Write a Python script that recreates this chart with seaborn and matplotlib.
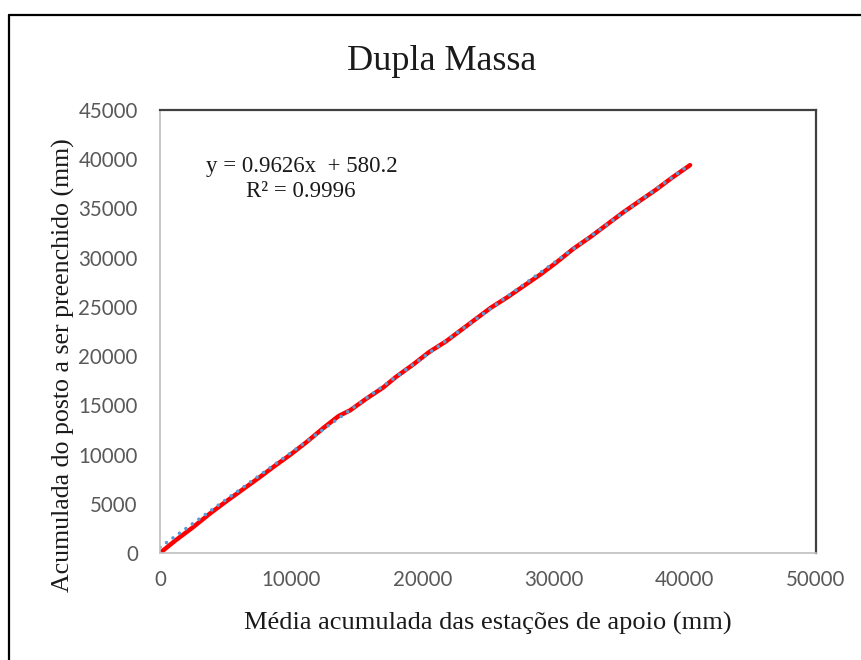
import matplotlib
matplotlib.use("Agg")
import matplotlib.pyplot as plt
import pandas as pd
import seaborn as sns
from matplotlib.lines import Line2D


# cumulative means of support stations (x) vs cumulative of the station being filled (y), mm
media_acumulada = [0, 1200, 2500, 3800, 5000, 6300, 7600, 8800, 9900, 11200,
                   12500, 13600, 14500, 15700, 17000, 18000, 19300, 20500, 21800, 23000,
                   24200, 25200, 26500, 27800, 29000, 30200, 31500, 32800, 34000, 35300,
                   36600, 37800, 39000, 40400]
posto_acumulado = [0, 1300, 2600, 4000, 5200, 6450, 7700, 8900, 9950, 11300,
                   12750, 13900, 14500, 15650, 16800, 17900, 19150, 20400, 21500, 22700,
                   23900, 24900, 26000, 27200, 28300, 29500, 30900, 32100, 33300, 34600,
                   35800, 36900, 38100, 39400]
slope = 0.9626
intercept = 580.2
r2 = 0.9996

x_ticks = [0, 10000, 20000, 30000, 40000, 50000]
y_ticks = [0, 5000, 10000, 15000, 20000, 25000, 30000, 35000, 40000, 45000]

df = pd.DataFrame({"x": media_acumulada, "y": posto_acumulado})
trend = pd.DataFrame({"x": [0, media_acumulada[-1]]})
trend["y"] = slope * trend["x"] + intercept

sns.set_theme(style="white")
serif = ["Liberation Serif", "DejaVu Serif"]
tick_font = ["Lato", "DejaVu Sans"]

fig = plt.figure(figsize=(8.61, 6.6), dpi=100)
ax = fig.add_axes([160 / 861, 1 - 553 / 660, (816 - 160) / 861, (553 - 110) / 660])

sns.lineplot(data=df, x="x", y="y", ax=ax, color="#FF0000", linewidth=3.2,
             sort=False, estimator=None, solid_capstyle="round")
# linear trendline, round dots
sns.lineplot(data=trend, x="x", y="y", ax=ax, color="#5B9BD5", linewidth=2.6,
             linestyle=(0, (0.01, 2.2)), dash_capstyle="round", estimator=None)

ax.set_xlim(0, 50000)
ax.set_ylim(0, 45000)
ax.set_xticks(x_ticks)
ax.set_yticks(y_ticks)
ax.set_xticklabels([str(v) for v in x_ticks], family=tick_font, fontsize=14.8, color="#595959")
ax.set_yticklabels([str(v) for v in y_ticks], family=tick_font, fontsize=14.8, color="#595959")
ax.tick_params(axis="y", length=0, pad=16)
ax.tick_params(axis="x", length=0, pad=12)

for side in ["left", "bottom"]:
    ax.spines[side].set_color("#BFBFBF")
    ax.spines[side].set_linewidth(1.2)
for side in ["top", "right"]:
    ax.spines[side].set_color("#404040")
    ax.spines[side].set_linewidth(1.6)

ax.set_xlabel("Média acumulada das estações de apoio (mm)", family=serif,
              fontsize=19, color="#1a1a1a")
ax.set_ylabel("Acumulada do posto a ser preenchido (mm)", family=serif,
              fontsize=18.6, color="#1a1a1a")
ax.xaxis.set_label_coords(0.5, -0.132)
ax.yaxis.set_label_coords(-0.13, 0.424)

fig.text(442 / 861, 1 - 62 / 660, "Dupla Massa", family=serif, fontsize=26,
         ha="center", va="center", color="#1a1a1a")

ax.text(3500, 39300, f"y = {slope}x  + {intercept}", family=serif, fontsize=16.5,
        ha="left", va="center", color="#1a1a1a")
ax.text(10700, 36750, f"R² = {r2}", family=serif, fontsize=16.5,
        ha="center", va="center", color="#1a1a1a")

# outer chart frame (only left and top edges fall inside the picture)
fig.add_artist(Line2D([8.5 / 861, 8.5 / 861], [0, 1 - 14.5 / 660], color="black", linewidth=1.6))
fig.add_artist(Line2D([8.5 / 861, 1], [1 - 14.5 / 660, 1 - 14.5 / 660], color="black", linewidth=1.6))

fig.savefig("out.png", dpi=100, facecolor="white")
